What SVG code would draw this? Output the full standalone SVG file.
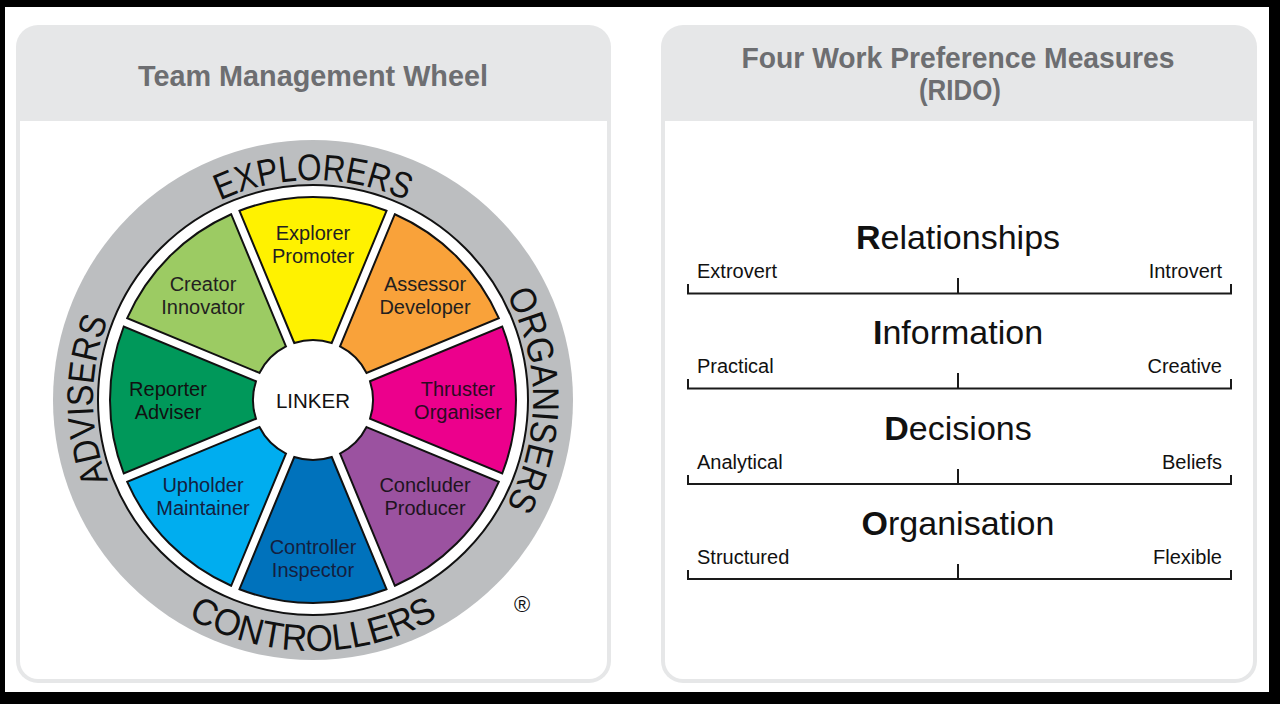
<svg xmlns="http://www.w3.org/2000/svg" width="1280" height="704" viewBox="0 0 1280 704">
<style>
.title{font-family:"Liberation Sans",Arial,sans-serif;font-weight:bold;font-size:29px;fill:#6d6e71;text-anchor:middle}
.seg{font-family:"Liberation Sans",Arial,sans-serif;font-size:20px;text-anchor:middle}
.ring{font-family:"Liberation Sans",Arial,sans-serif;font-size:37px;fill:#111}
.head{font-family:"Liberation Sans",Arial,sans-serif;font-size:34px;fill:#111;text-anchor:middle}
.lab{font-family:"Liberation Sans",Arial,sans-serif;font-size:20px;fill:#111}
.scale{stroke:#1a1a1a;stroke-width:2;fill:none}
.wedge{stroke:#111;stroke-width:2}
</style>
<defs>
<path id="wedge" d="M -18.739,-56.998 L -73.509,-189.224 A 203 203 0 0 1 73.509,-189.224 L 18.739,-56.998 A 60 60 0 0 0 -18.739,-56.998 Z"/>
<path id="arcTop" d="M 93,400 A 220 220 0 0 1 533,400"/>
<path id="arcRight" d="M 313,180 A 220 220 0 0 1 313,620"/>
<path id="arcLeft" d="M 313,620 A 220 220 0 0 1 313,180"/>
<path id="arcBottom" d="M 62,400 A 251 251 0 0 0 564,400"/>
</defs>
<rect x="0" y="0" width="1280" height="704" fill="#000"/>
<rect x="5" y="7" width="1264" height="685" fill="#fff"/>

<g id="panel-left">
<rect x="16" y="25" width="595" height="658" rx="22" fill="#e6e7e8"/>
<path d="M 20,121 H 607 V 661 A 18 18 0 0 1 589,679 H 38 A 18 18 0 0 1 20,661 Z" fill="#fff"/>
<text class="title" x="313" y="86" textLength="350" lengthAdjust="spacingAndGlyphs">Team Management Wheel</text>
</g>

<g id="panel-right">
<rect x="661" y="25" width="596" height="658" rx="22" fill="#e6e7e8"/>
<path d="M 665,121 H 1253 V 661 A 18 18 0 0 1 1235,679 H 683 A 18 18 0 0 1 665,661 Z" fill="#fff"/>
<text class="title" x="958" y="68" textLength="433" lengthAdjust="spacingAndGlyphs">Four Work Preference Measures</text>
<text class="title" x="960" y="100" textLength="82" lengthAdjust="spacingAndGlyphs">(RIDO)</text>
</g>

<g id="wheel-ring">
<circle cx="313" cy="400" r="260" fill="#bcbec0"/>
<circle cx="313" cy="400" r="215" fill="#fff" stroke="#111" stroke-width="2"/>
<text class="ring"><textPath href="#arcTop" startOffset="50%" text-anchor="middle" textLength="192" lengthAdjust="spacingAndGlyphs">EXPLORERS</textPath></text>
<text class="ring"><textPath href="#arcRight" startOffset="50%" text-anchor="middle" textLength="220" lengthAdjust="spacingAndGlyphs">ORGANISERS</textPath></text>
<text class="ring"><textPath href="#arcLeft" startOffset="50%" text-anchor="middle" textLength="165" lengthAdjust="spacingAndGlyphs">ADVISERS</textPath></text>
<text class="ring"><textPath href="#arcBottom" startOffset="50%" text-anchor="middle" textLength="262" lengthAdjust="spacingAndGlyphs">CONTROLLERS</textPath></text>
<text x="522" y="612" font-family="Liberation Sans, Arial, sans-serif" font-size="22" text-anchor="middle" fill="#111">®</text>
</g>

<g id="explorer-promoter">
<use href="#wedge" class="wedge" fill="#fff200" transform="translate(313,400) rotate(0)"/>
<text class="seg" fill="#231f20" x="313" y="240">Explorer</text>
<text class="seg" fill="#231f20" x="313" y="263">Promoter</text>
</g>
<g id="assessor-developer">
<use href="#wedge" class="wedge" fill="#f9a23a" transform="translate(313,400) rotate(45)"/>
<text class="seg" fill="#231f20" x="425" y="291">Assessor</text>
<text class="seg" fill="#231f20" x="425" y="314">Developer</text>
</g>
<g id="thruster-organiser">
<use href="#wedge" class="wedge" fill="#ec008c" transform="translate(313,400) rotate(90)"/>
<text class="seg" fill="#2b0a22" x="458" y="396">Thruster</text>
<text class="seg" fill="#2b0a22" x="458" y="419">Organiser</text>
</g>
<g id="concluder-producer">
<use href="#wedge" class="wedge" fill="#9b52a0" transform="translate(313,400) rotate(135)"/>
<text class="seg" fill="#1e1420" x="425" y="492">Concluder</text>
<text class="seg" fill="#1e1420" x="425" y="515">Producer</text>
</g>
<g id="controller-inspector">
<use href="#wedge" class="wedge" fill="#0072bc" transform="translate(313,400) rotate(180)"/>
<text class="seg" fill="#14203f" x="313" y="554">Controller</text>
<text class="seg" fill="#14203f" x="313" y="577">Inspector</text>
</g>
<g id="upholder-maintainer">
<use href="#wedge" class="wedge" fill="#00adef" transform="translate(313,400) rotate(225)"/>
<text class="seg" fill="#14203f" x="203" y="492">Upholder</text>
<text class="seg" fill="#14203f" x="203" y="515">Maintainer</text>
</g>
<g id="reporter-adviser">
<use href="#wedge" class="wedge" fill="#00985a" transform="translate(313,400) rotate(270)"/>
<text class="seg" fill="#111" x="168" y="396">Reporter</text>
<text class="seg" fill="#111" x="168" y="419">Adviser</text>
</g>
<g id="creator-innovator">
<use href="#wedge" class="wedge" fill="#9ccb63" transform="translate(313,400) rotate(315)"/>
<text class="seg" fill="#231f20" x="203" y="291">Creator</text>
<text class="seg" fill="#231f20" x="203" y="314">Innovator</text>
</g>
<g id="linker">
<circle cx="313" cy="400" r="55" fill="#fff"/>
<text x="313" y="408" font-family="Liberation Sans, Arial, sans-serif" font-size="20.5" text-anchor="middle" fill="#111">LINKER</text>
</g>

<g id="relationships">
<text class="head" x="958" y="249"><tspan font-weight="bold">R</tspan>elationships</text>
<text class="lab" x="697" y="278">Extrovert</text>
<text class="lab" x="1222" y="278" text-anchor="end">Introvert</text>
</g>
<g id="information">
<text class="head" x="958" y="344"><tspan font-weight="bold">I</tspan>nformation</text>
<text class="lab" x="697" y="373">Practical</text>
<text class="lab" x="1222" y="373" text-anchor="end">Creative</text>
</g>
<g id="decisions">
<text class="head" x="958" y="440"><tspan font-weight="bold">D</tspan>ecisions</text>
<text class="lab" x="697" y="469">Analytical</text>
<text class="lab" x="1222" y="469" text-anchor="end">Beliefs</text>
</g>
<g id="organisation">
<text class="head" x="958" y="535"><tspan font-weight="bold">O</tspan>rganisation</text>
<text class="lab" x="697" y="564">Structured</text>
<text class="lab" x="1222" y="564" text-anchor="end">Flexible</text>
</g>

<g id="connectors">
<path class="scale" d="M 688,284 V 293.5 H 1231 V 284 M 958,278 V 293.5"/>
<path class="scale" d="M 688,379 V 388.5 H 1231 V 379 M 958,373 V 388.5"/>
<path class="scale" d="M 688,475 V 484 H 1231 V 475 M 958,469 V 484"/>
<path class="scale" d="M 688,570 V 579 H 1231 V 570 M 958,564 V 579"/>
</g>
</svg>
